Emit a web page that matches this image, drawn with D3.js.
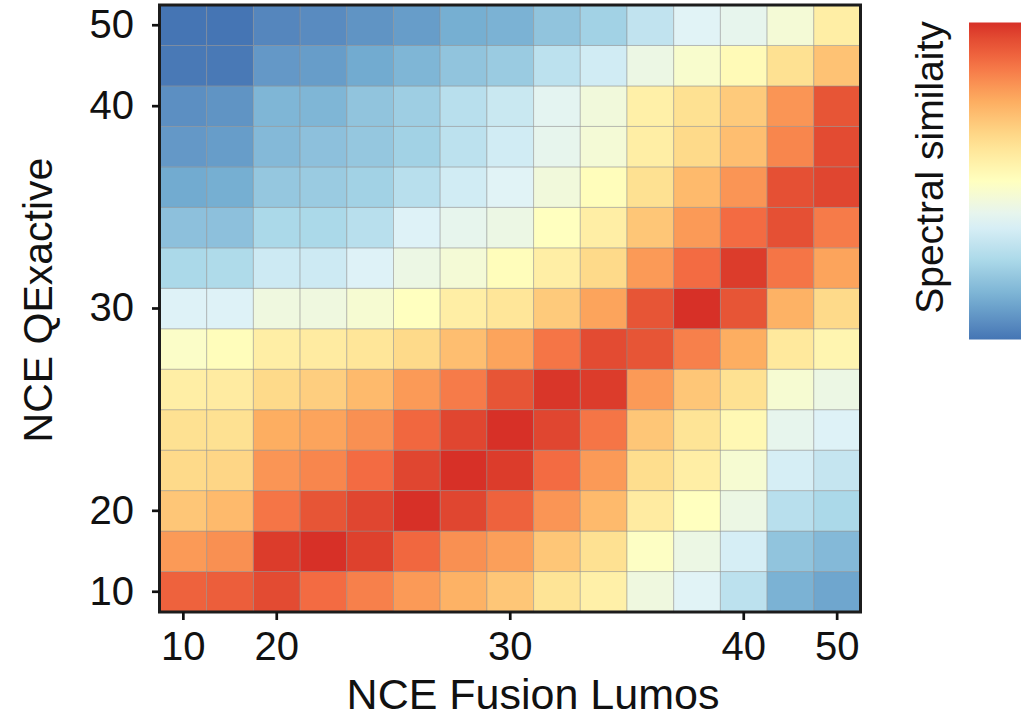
<!DOCTYPE html>
<html><head><meta charset="utf-8">
<script src="https://cdn.jsdelivr.net/npm/d3@7"></script>
<style>
body{margin:0;background:#fff;}
svg text{font-family:"Liberation Sans",Arial,Helvetica,sans-serif;fill:#111;}
</style></head><body>
<svg id="chart" width="1026" height="719"></svg>
<script>
// categories
const nceLumos = [10,15,20,22,24,26,28,30,32,34,36,38,40,45,50];
const nceQE    = [10,15,20,22,24,26,28,30,32,34,36,38,40,45,50];
const tickLabels = [10,20,30,40,50];
const palette = ["#4575b4","#74add1","#abd9e9","#e0f3f8","#ffffbf","#fee090","#fdae61","#f46d43","#d73027"];
const xTitle = "NCE Fusion Lumos";
const yTitle = "NCE QExactive";
const legendTitle = "Spectral similaity";

// spectral similarity (normalised), one array per QExactive NCE, columns = Lumos NCE 10..50
const sim_QE50 = [0.00,0.00,0.04,0.05,0.07,0.09,0.13,0.14,0.19,0.23,0.30,0.38,0.40,0.45,0.57];
const sim_QE45 = [0.01,0.01,0.08,0.09,0.12,0.15,0.19,0.21,0.29,0.34,0.42,0.47,0.52,0.62,0.70];
const sim_QE40 = [0.06,0.07,0.15,0.15,0.19,0.22,0.28,0.32,0.39,0.44,0.56,0.62,0.68,0.80,0.93];
const sim_QE38 = [0.08,0.09,0.16,0.18,0.20,0.23,0.29,0.34,0.40,0.45,0.57,0.64,0.71,0.83,0.95];
const sim_QE36 = [0.12,0.13,0.20,0.21,0.23,0.28,0.34,0.38,0.44,0.51,0.62,0.72,0.80,0.94,0.96];
const sim_QE34 = [0.18,0.18,0.25,0.25,0.28,0.37,0.40,0.42,0.50,0.57,0.69,0.79,0.88,0.94,0.85];
const sim_QE32 = [0.25,0.26,0.33,0.33,0.37,0.42,0.45,0.51,0.57,0.64,0.79,0.88,0.98,0.86,0.77];
const sim_QE30 = [0.37,0.37,0.43,0.43,0.46,0.50,0.57,0.60,0.68,0.77,0.93,1.00,0.93,0.74,0.64];
const sim_QE28 = [0.48,0.51,0.57,0.58,0.60,0.64,0.71,0.77,0.86,0.95,0.93,0.84,0.75,0.59,0.54];
const sim_QE26 = [0.57,0.58,0.64,0.67,0.72,0.79,0.85,0.93,0.99,0.98,0.79,0.69,0.62,0.46,0.42];
const sim_QE24 = [0.62,0.62,0.75,0.77,0.81,0.89,0.96,1.00,0.96,0.86,0.69,0.61,0.53,0.40,0.37];
const sim_QE22 = [0.64,0.65,0.80,0.83,0.88,0.96,1.00,0.98,0.88,0.79,0.63,0.57,0.46,0.35,0.31];
const sim_QE20 = [0.69,0.72,0.86,0.93,0.96,1.00,0.96,0.90,0.80,0.72,0.58,0.50,0.42,0.28,0.25];
const sim_QE15 = [0.79,0.81,0.98,1.00,0.97,0.89,0.81,0.78,0.69,0.62,0.49,0.42,0.35,0.19,0.16];
const sim_QE10 = [0.90,0.91,0.95,0.88,0.84,0.79,0.74,0.69,0.61,0.56,0.43,0.38,0.29,0.14,0.11];

const rows = {10:sim_QE10,15:sim_QE15,20:sim_QE20,22:sim_QE22,24:sim_QE24,26:sim_QE26,28:sim_QE28,
  30:sim_QE30,32:sim_QE32,34:sim_QE34,36:sim_QE36,38:sim_QE38,40:sim_QE40,45:sim_QE45,50:sim_QE50};
const cells = [];
nceQE.forEach(q => rows[q].forEach((v,i) => cells.push({x:nceLumos[i], y:q, v})));

const svg = d3.select("#chart");
const P = {l:160, r:860.5, t:5, b:612};

const x = d3.scaleBand().domain(nceLumos).range([P.l,P.r]).padding(0);
const y = d3.scaleBand().domain(nceQE.slice().reverse()).range([P.t,P.b]).padding(0);

const ext = d3.extent(cells, d => d.v);
const color = d3.scaleLinear()
  .domain(palette.map((c,i) => ext[0] + (ext[1]-ext[0]) * i/(palette.length-1)))
  .range(palette).interpolate(d3.interpolateLab);

svg.append("g").selectAll("rect").data(cells).join("rect")
  .attr("x", d => x(d.x)).attr("y", d => y(d.y))
  .attr("width", x.bandwidth()).attr("height", y.bandwidth())
  .attr("fill", d => color(d.v))
  .attr("stroke", "rgba(140,140,140,0.45)").attr("stroke-width", 1);

// frame
svg.append("rect").attr("x",P.l-0.5).attr("y",P.t).attr("width",P.r-P.l+0.5).attr("height",P.b-P.t)
  .attr("fill","none").attr("stroke","#1c1c1c").attr("stroke-width",3);

// axes
const xAxis = d3.axisBottom(x).tickValues(tickLabels).tickSizeInner(8).tickSizeOuter(0).tickPadding(12);
const gx = svg.append("g").attr("transform",`translate(0,${P.b})`).call(xAxis);
const yAxis = d3.axisLeft(y).tickValues(tickLabels).tickSizeInner(8).tickSizeOuter(0).tickPadding(18);
const gy = svg.append("g").attr("transform",`translate(${P.l},0)`).call(yAxis);
[gx,gy].forEach(g => {
  g.select(".domain").remove();
  g.selectAll(".tick line").attr("stroke","#111").attr("stroke-width",2.7);
  g.selectAll(".tick text").attr("font-size",40).attr("fill","#111")
    .style("font-family","'Liberation Sans',Arial,sans-serif");
});

// axis titles
svg.append("text").attr("x",533).attr("y",709).attr("text-anchor","middle")
  .attr("font-size",43).text(xTitle);
svg.append("text").attr("transform","translate(52,300) rotate(-90)").attr("text-anchor","middle")
  .attr("font-size",41).text(yTitle);

// colour bar legend
const L = {x:969, y:22.5, w:52, h:317};
const defs = svg.append("defs");
const grad = defs.append("linearGradient").attr("id","lg").attr("x1",0).attr("y1",1).attr("x2",0).attr("y2",0);
const lscale = d3.scaleLinear().domain(ext).range([0,1]);
d3.range(0,1.0001,0.05).forEach(t => {
  const v = ext[0] + t*(ext[1]-ext[0]);
  grad.append("stop").attr("offset", lscale(v)).attr("stop-color", color(v));
});
svg.append("rect").attr("x",L.x).attr("y",L.y).attr("width",L.w).attr("height",L.h).attr("fill","url(#lg)");
svg.append("text").attr("transform",`translate(943,${L.y + 145}) rotate(-90)`).attr("text-anchor","middle")
  .attr("font-size",39).text(legendTitle);
</script>
</body></html>
